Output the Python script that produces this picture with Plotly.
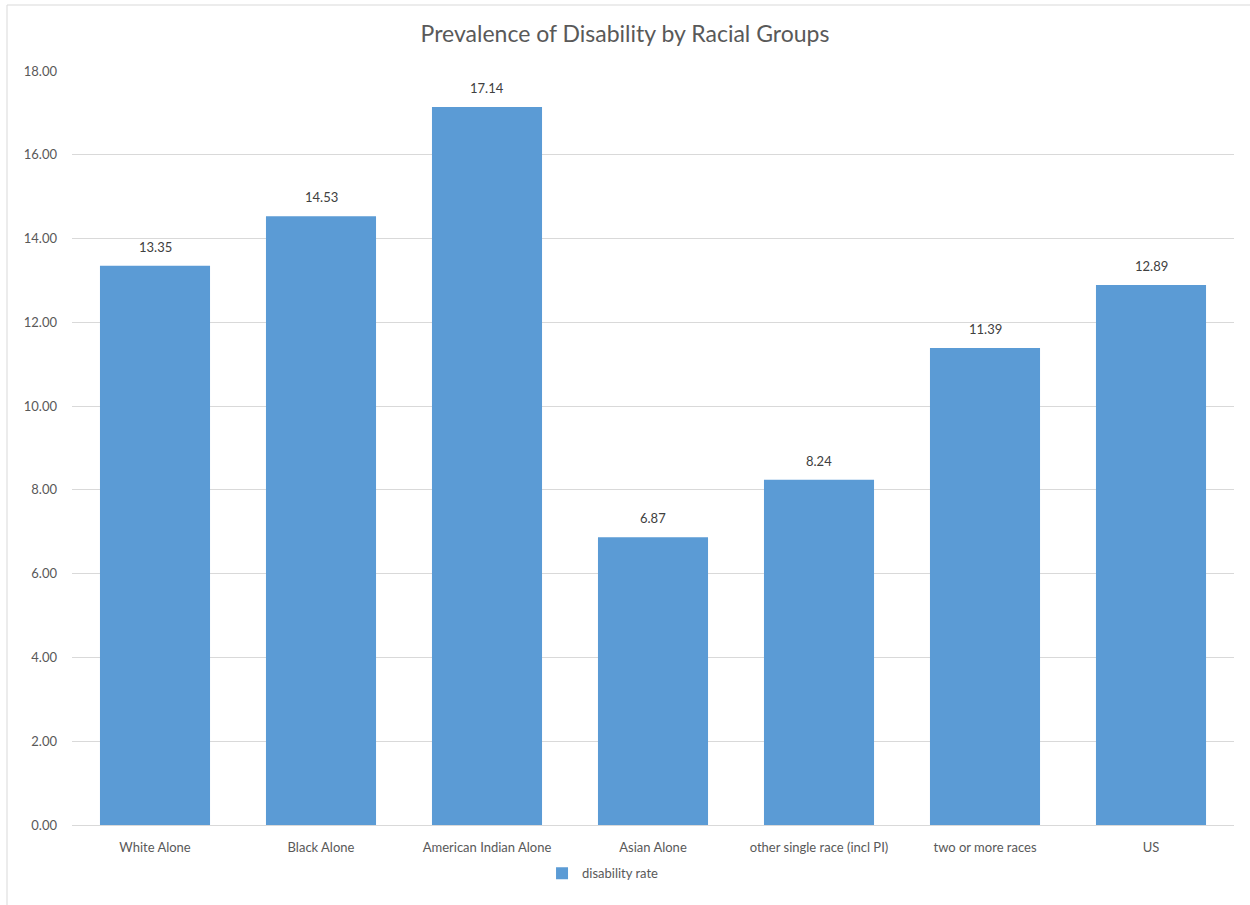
import plotly.graph_objects as go

categories = ["White Alone", "Black Alone", "American Indian Alone", "Asian Alone",
              "other single race (incl PI)", "two or more races", "US"]
disability_rate = [13.35, 14.53, 17.14, 6.87, 8.24, 11.39, 12.89]
y_ticks = [0, 2, 4, 6, 8, 10, 12, 14, 16, 18]

FONT = "Lato"
fig = go.Figure()
fig.add_trace(go.Bar(
    x=categories, y=disability_rate, name="disability rate",
    marker=dict(color="#5B9BD5", line=dict(width=0)),
))
for c, v in zip(categories, disability_rate):
    fig.add_annotation(x=c, y=v, text=f"{v:.2f}", showarrow=False, yanchor="bottom",
                       yshift=9, font=dict(family=FONT, size=13, color="#404040"))
fig.update_layout(
    width=1250, height=905, paper_bgcolor="white", plot_bgcolor="white",
    margin=dict(l=72, r=16, t=71, b=80),
    title=dict(text="Prevalence of Disability by Racial Groups", x=0.5, xanchor="center",
               y=1 - 34 / 905, yanchor="middle",
               font=dict(family=FONT, size=23, color="#595959")),
    bargap=0.337, showlegend=True,
    legend=dict(orientation="h", x=0.457, xanchor="center", y=-0.064, yanchor="middle",
                font=dict(family=FONT, size=13, color="#595959")),
    font=dict(family=FONT, size=13, color="#595959"),
)
fig.update_yaxes(range=[0, 18], tickvals=y_ticks, tickformat=".2f", showgrid=True,
                 gridcolor="#D9D9D9", zeroline=False, ticklabelstandoff=14,
                 tickfont=dict(family=FONT, size=13, color="#595959"))
fig.update_xaxes(showline=True, linecolor="#D9D9D9", linewidth=1, ticklabelstandoff=10,
                 tickfont=dict(family=FONT, size=13, color="#595959"))
fig.add_shape(type="rect", xref="paper", yref="paper",
              x0=(7 - 72) / 1162, x1=(1260 - 72) / 1162,
              y0=(825 - 915) / 754, y1=(825 - 5) / 754,
              line=dict(color="#D9D9D9", width=1), fillcolor="rgba(0,0,0,0)", layer="below")
fig.write_html("out.html")
